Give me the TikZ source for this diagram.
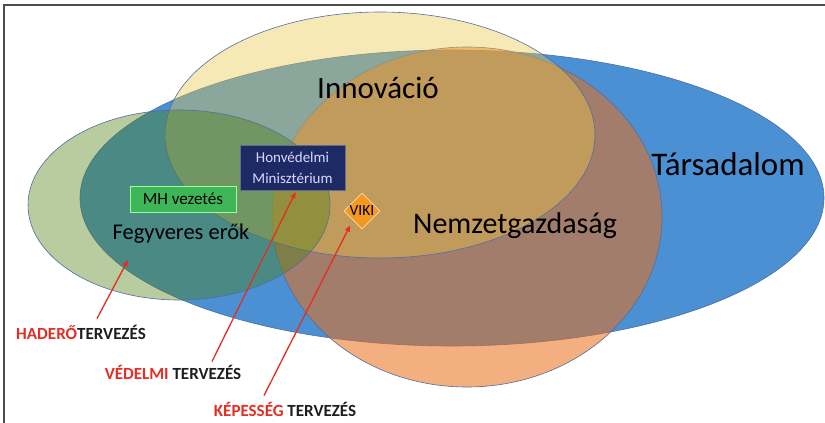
\documentclass[tikz,border=0pt]{standalone}
\usepackage{fontspec}
\setmainfont{Carlito}
\usetikzlibrary{shapes.geometric,arrows.meta}
\definecolor{tarsBlue}{RGB}{74,144,210}
\definecolor{innoYellow}{RGB}{237,200,70}
\definecolor{nemzOrange}{RGB}{235,110,25}
\definecolor{fegyGreen}{RGB}{78,128,18}
\definecolor{edgeBlue}{RGB}{80,110,160}
\definecolor{hmNavy}{RGB}{30,42,100}
\definecolor{mhGreen}{RGB}{62,182,88}
\definecolor{vikiOrange}{RGB}{245,152,32}
\definecolor{planRed}{RGB}{228,46,36}
\definecolor{planBlack}{RGB}{30,30,30}

\begin{document}
\begin{tikzpicture}[x=1pt,y=-1pt,
  setedge/.style={draw=edgeBlue,line width=0.6pt},
  pointer/.style={draw=planRed,line width=1.3pt,-{Triangle[length=6pt,width=5pt]}},
  planlabel/.style={font=\fontsize{17}{20}\bfseries\selectfont,text=planBlack,inner sep=1pt,anchor=base}]
\useasboundingbox (0,0) rectangle (825,423);
\fill[white] (0,0) rectangle (825,423);
\draw[gray!60!black,line width=1.2pt] (4,423) -- (4,5) -- (825,5);

% halmazok
\path[setedge,fill=tarsBlue] (452,198) ellipse [x radius=372pt,y radius=148pt];
\path[setedge,fill=nemzOrange,fill opacity=0.55] (467,217) ellipse [x radius=195pt,y radius=170pt];
\path[setedge,fill=innoYellow,fill opacity=0.4] (380,135) ellipse [x radius=215pt,y radius=123pt];
\path[setedge,fill=fegyGreen,fill opacity=0.4] (179,205) ellipse [x radius=151pt,y radius=95pt];

\node[font=\fontsize{31}{37}\selectfont,anchor=base] (innov) at (378,98) {Innováció};
\node[font=\fontsize{33}{39}\selectfont,anchor=base] (tars) at (728,175) {Társadalom};
\node[font=\fontsize{30}{36}\selectfont,anchor=base] (nemz) at (515,233) {Nemzetgazdaság};
\node[font=\fontsize{22.5}{27}\selectfont,anchor=base] (fegy) at (181,239) {Fegyveres erők};

\node[draw=green!40!white,line width=0.5pt,fill=mhGreen,minimum width=106pt,minimum height=26pt,
  font=\fontsize{17}{20}\selectfont] (mh) at (183,199) {MH vezetés};
\node[draw=hmNavy!70!white,line width=0.5pt,fill=hmNavy,text=white!85!blue,minimum width=105pt,minimum height=45pt,
  align=center,font=\fontsize{15}{21}\selectfont] (hm) at (292.5,167.5) {Honvédelmi\\Minisztérium};
\node[diamond,draw=orange!30!white,line width=0.6pt,fill=vikiOrange,minimum size=36pt,inner sep=0pt,
  font=\fontsize{15.5}{18}\selectfont] (viki) at (362,211) {VIKI};

\node[planlabel] (hadero) at (81,339) {\textcolor{planRed}{HADERŐ}TERVEZÉS};
\node[planlabel] (vedelmi) at (173,379) {\textcolor{planRed}{VÉDELMI} TERVEZÉS};
\node[planlabel] (kepesseg) at (285,416) {\textcolor{planRed}{KÉPESSÉG} TERVEZÉS};

\coordinate (fegyTip) at (128,260);
\draw[pointer] ([xshift=16pt,yshift=5pt]hadero.north) -- (fegyTip);
\draw[pointer,shorten >=2pt] ([xshift=39pt,yshift=2pt]vedelmi.north) -- ([xshift=4pt]hm.south);
\draw[pointer,shorten >=6pt] ([xshift=-21pt,yshift=5pt]kepesseg.north) -- (viki.south west);
\end{tikzpicture}
\end{document}
